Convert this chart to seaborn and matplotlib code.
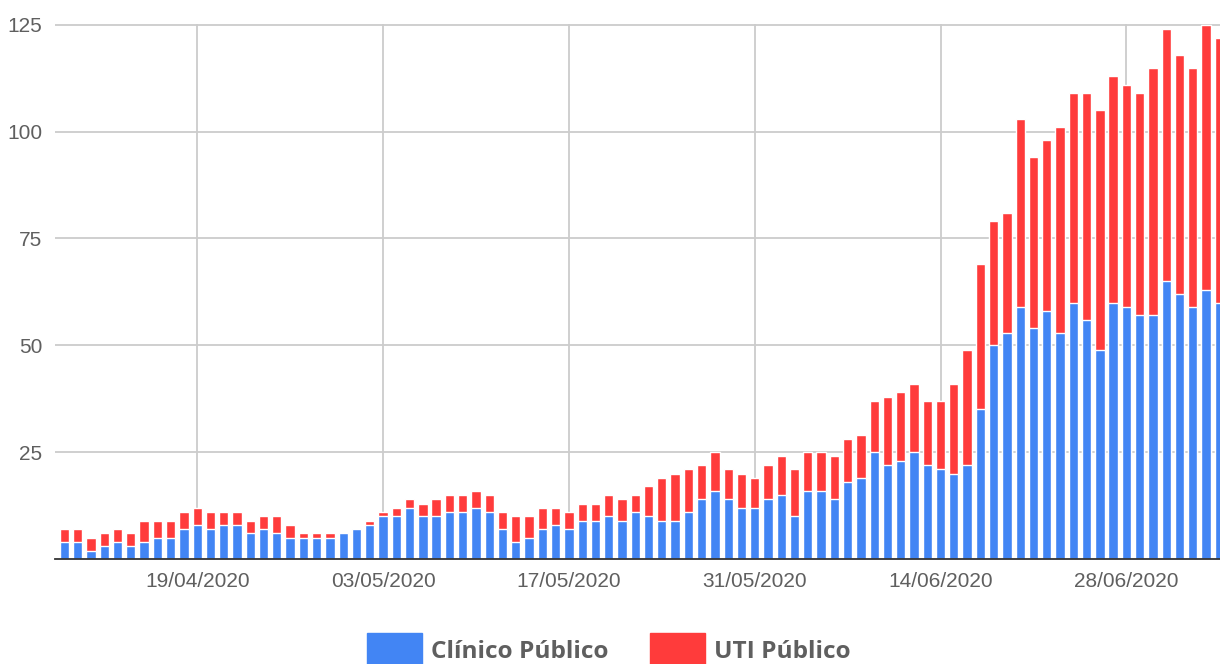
import numpy as np
import pandas as pd
import matplotlib
matplotlib.use("Agg")
import matplotlib.pyplot as plt
from matplotlib.patches import Patch
import seaborn as sns

# ---- data ----
start_date = "2020-04-09"
clinico = [4, 4, 2, 3, 4, 3, 4, 5, 5, 7,
           8, 7, 8, 8, 6, 7, 6, 5, 5, 5,
           5, 6, 7, 8, 10, 10, 12, 10, 10, 11,
           11, 12, 11, 7, 4, 5, 7, 8, 7, 9,
           9, 10, 9, 11, 10, 9, 9, 11, 14, 16,
           14, 12, 12, 14, 15, 10, 16, 16, 14, 18,
           19, 25, 22, 23, 25, 22, 21, 20, 22, 35,
           50, 53, 59, 54, 58, 53, 60, 56, 49, 60,
           59, 57, 57, 65, 62, 59, 63, 60]
uti = [3, 3, 3, 3, 3, 3, 5, 4, 4, 4,
       4, 4, 3, 3, 3, 3, 4, 3, 1, 1,
       1, 0, 0, 1, 1, 2, 2, 3, 4, 4,
       4, 4, 4, 4, 6, 5, 5, 4, 4, 4,
       4, 5, 5, 4, 7, 10, 11, 10, 8, 9,
       7, 8, 7, 8, 9, 11, 9, 9, 10, 10,
       10, 12, 16, 16, 16, 15, 16, 21, 27, 34,
       29, 28, 44, 40, 40, 48, 49, 53, 56, 53,
       52, 52, 58, 59, 56, 56, 62, 62]
tick_labels = ["19/04/2020", "03/05/2020", "17/05/2020",
               "31/05/2020", "14/06/2020", "28/06/2020"]
y_ticks = [25, 50, 75, 100, 125]
series_names = ["Clínico Público", "UTI Público"]

dates = pd.date_range(start_date, periods=len(clinico))
df = pd.DataFrame({
    "date": dates.strftime("%d/%m/%Y"),
    "clinico": clinico,
    "uti": uti,
})
df["total"] = df["clinico"] + df["uti"]

BLUE = "#4285F4"
RED = "#FF3B3B"

sns.set_theme(style="white")
plt.rcParams["font.family"] = ["Liberation Sans", "DejaVu Sans"]

fig = plt.figure(figsize=(12.2, 6.64), dpi=100)
ax = fig.add_axes([0.045, 0.158, 0.955, 0.806])

order = list(df["date"])
sns.barplot(data=df, x="date", y="total", order=order, color=RED,
            saturation=1, width=0.7, ax=ax, zorder=3)
sns.barplot(data=df, x="date", y="clinico", order=order, color=BLUE,
            saturation=1, width=0.7, ax=ax, zorder=4)

ax.set_xlim(-0.72, 87.05)
ax.set_ylim(0, 125.2)

tick_pos = [order.index(t) for t in tick_labels]
ax.set_xticks(tick_pos)
ax.set_xticklabels(tick_labels)
ax.set_yticks(y_ticks)
ax.set_yticklabels([str(v) for v in y_ticks])
ax.tick_params(axis="both", length=0, labelsize=15, labelcolor="#5f5f5f")
ax.tick_params(axis="x", pad=9)
ax.tick_params(axis="y", pad=9)
ax.set_xlabel("")
ax.set_ylabel("")

ax.grid(True, axis="both", color="#cccccc", linewidth=1.3, zorder=0)
ax.set_axisbelow(True)
for s in ["top", "right", "left"]:
    ax.spines[s].set_visible(False)
ax.spines["bottom"].set_color("#333333")
ax.spines["bottom"].set_linewidth(1.3)
ax.spines["bottom"].set_zorder(6)

handles = [Patch(facecolor=BLUE, edgecolor=BLUE, label=series_names[0]),
           Patch(facecolor=RED, edgecolor=RED, label=series_names[1])]
fig.legend(handles=handles, loc="lower center", ncol=2, frameon=False,
           bbox_to_anchor=(0.499, -0.039),
           prop={"family": ["Open Sans", "DejaVu Sans"], "weight": "bold", "size": 17.6},
           labelcolor="#5f5f5f", handlelength=2.25, handleheight=1.8,
           handletextpad=0.38, columnspacing=1.7)

fig.savefig("out.png", dpi=100)
